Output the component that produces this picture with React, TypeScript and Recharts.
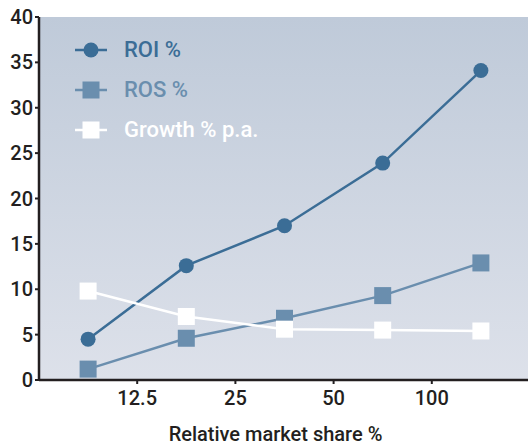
import React from 'react';
import { LineChart, Line, XAxis, YAxis, CartesianGrid } from 'recharts';

// market share bands, plotted at slots 1..5; tick labels sit between slots
const slots = [1, 2, 3, 4, 5];
const tickSlots = [1.5, 2.5, 3.5, 4.5];
const tickLabels = ['12.5', '25', '50', '100'];

const roi = [4.5, 12.6, 17.0, 23.9, 34.1];
const ros = [1.2, 4.6, 6.8, 9.3, 12.9];
const growth = [9.8, 7.0, 5.6, 5.5, 5.4];

const yTicks = [0, 5, 10, 15, 20, 25, 30, 35, 40];

const ROI_COLOR = '#3b6d96';
const ROS_COLOR = '#6a8eae';
const GROWTH_COLOR = '#ffffff';
const AXIS_COLOR = '#231f20';
const FONT = 'Roboto, "DejaVu Sans", sans-serif';

const data = slots.map((x, i) => ({ x, roi: roi[i], ros: ros[i], growth: growth[i] }));

const series = [
  { key: 'roi', name: 'ROI %', color: ROI_COLOR, shape: 'circle' },
  { key: 'ros', name: 'ROS %', color: ROS_COLOR, shape: 'square' },
  { key: 'growth', name: 'Growth % p.a.', color: GROWTH_COLOR, shape: 'square' },
];

const Marker = ({ cx, cy, color, shape }: { cx: number; cy: number; color: string; shape: string }) =>
  shape === 'circle' ? (
    <circle cx={cx} cy={cy} r={7.5} fill={color} />
  ) : (
    <rect x={cx - 8.5} y={cy - 8.5} width={17} height={17} fill={color} />
  );

const dotFor = (color: string, shape: string) => (props: any) => (
  <Marker key={props.key ?? `${props.index}`} cx={props.cx} cy={props.cy} color={color} shape={shape} />
);

// legend floats over the upper-left of the plot
const LegendBox = () => (
  <div style={{ position: 'absolute', left: 75, top: 30, display: 'flex', flexDirection: 'column' }}>
    {series.map((s) => (
      <div key={s.key} style={{ display: 'flex', alignItems: 'center', height: 40 }}>
        <svg width={34} height={20}>
          <line x1={0} x2={32} y1={10} y2={10} stroke={s.color} strokeWidth={2.5} />
          <Marker cx={16} cy={10} color={s.color} shape={s.shape} />
        </svg>
        <span
          style={{
            marginLeft: 15,
            color: s.color,
            fontFamily: FONT,
            fontWeight: 500,
            fontSize: 22,
            lineHeight: '40px',
          }}
        >
          {s.name}
        </span>
      </div>
    ))}
  </div>
);

export default function App() {
  return (
    <div style={{ position: 'absolute', left: 0, top: 0, width: 528, height: 446, overflow: 'hidden', background: '#fff' }}>
      <LineChart width={530} height={446} data={data} margin={{ top: 17, right: 0, bottom: 0, left: 0 }}>
        <defs>
          <linearGradient id="plotBg" x1="0" y1="0" x2="0" y2="1">
            <stop offset="0%" stopColor="#bfcad9" />
            <stop offset="100%" stopColor="#dde1ea" />
          </linearGradient>
        </defs>
        <CartesianGrid horizontal={false} vertical={false} fill="url(#plotBg)" fillOpacity={1} />
        <XAxis
          dataKey="x"
          type="number"
          domain={[0.5, 5.5]}
          ticks={tickSlots}
          tickFormatter={(v: number) => tickLabels[tickSlots.indexOf(v)]}
          axisLine={{ stroke: AXIS_COLOR, strokeWidth: 2.5 }}
          tickLine={{ stroke: AXIS_COLOR, strokeWidth: 2 }}
          tickSize={4}
          tickMargin={7}
          tick={{ fill: AXIS_COLOR, fontSize: 20, fontWeight: 500, fontFamily: FONT }}
          label={{
            value: 'Relative market share %',
            position: 'insideBottom',
            offset: 0,
            dx: -9,
            dy: -5,
            fill: AXIS_COLOR,
            fontSize: 20,
            fontWeight: 500,
            fontFamily: FONT,
          }}
          height={66}
        />
        <YAxis
          domain={[0, 40]}
          ticks={yTicks}
          width={39}
          axisLine={{ stroke: AXIS_COLOR, strokeWidth: 2.5 }}
          tickLine={{ stroke: AXIS_COLOR, strokeWidth: 2 }}
          tickSize={4}
          tickMargin={2}
          tick={{ fill: AXIS_COLOR, fontSize: 20, fontWeight: 500, fontFamily: FONT }}
        />
        {series.map((s) => (
          <Line
            key={s.key}
            dataKey={s.key}
            name={s.name}
            type="linear"
            stroke={s.color}
            strokeWidth={2.5}
            dot={dotFor(s.color, s.shape)}
            activeDot={false}
            isAnimationActive={false}
          />
        ))}
      </LineChart>
      <LegendBox />
    </div>
  );
}
